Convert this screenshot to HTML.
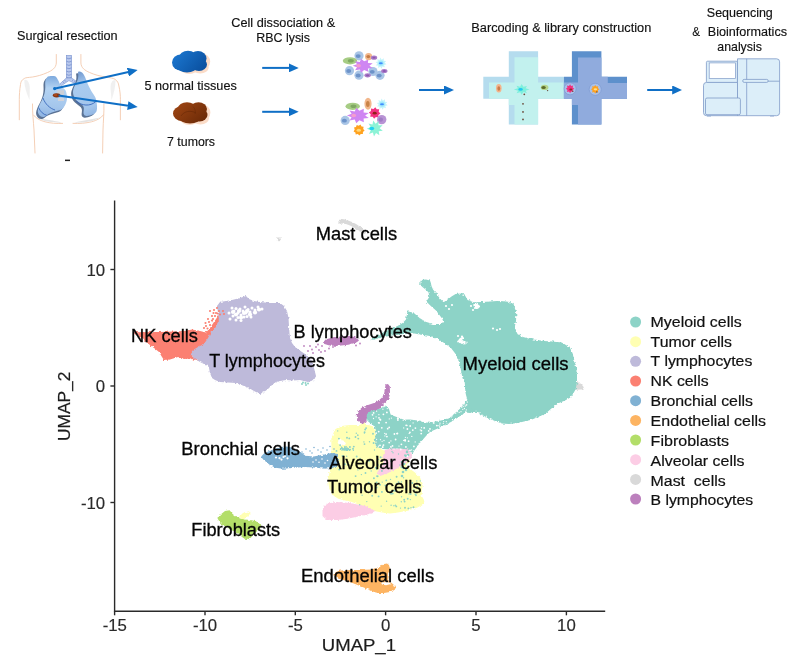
<!DOCTYPE html>
<html lang="en">
<head>
<meta charset="utf-8">
<title>scRNA-seq workflow and UMAP</title>
<style>
html,body{margin:0;padding:0;background:#fff;}
body{width:799px;height:663px;overflow:hidden;position:relative;font-family:"Liberation Sans",sans-serif;}
svg{position:absolute;left:0;top:0;display:block;}
text{font-family:"Liberation Sans",sans-serif;}
.flow{fill:#111;stroke:#111;stroke-width:0.15px;}
.lab{fill:#050505;stroke:#050505;stroke-width:0.3px;}
.leg{fill:#111;stroke:#111;stroke-width:0.2px;}
.tick{fill:#2a2a2a;stroke:#2a2a2a;stroke-width:0.15px;}
.axt{fill:#1c1c1c;stroke:#1c1c1c;stroke-width:0.2px;}
</style>
</head>
<body>
<svg width="799" height="663" viewBox="0 0 799 663">
<defs>
<marker id="ah" viewBox="0 0 10 9" refX="4" refY="4.5" markerWidth="10" markerHeight="9" markerUnits="userSpaceOnUse" orient="auto"><path d="M0,0 L10,4.5 L0,9 Z" fill="#0f6fc6"/></marker>
<linearGradient id="gBlue" gradientUnits="userSpaceOnUse" x1="178" y1="52" x2="202" y2="73"><stop offset="0" stop-color="#1a74cc"/><stop offset="1" stop-color="#0a4f9e"/></linearGradient>
<linearGradient id="gBrown" gradientUnits="userSpaceOnUse" x1="180" y1="103" x2="198" y2="124"><stop offset="0" stop-color="#9a4312"/><stop offset="1" stop-color="#6f2c08"/></linearGradient>
<linearGradient id="gLung" x1="0" y1="0" x2="0" y2="1"><stop offset="0" stop-color="#b9d6f2"/><stop offset="0.7" stop-color="#9dc0e8"/><stop offset="1" stop-color="#6f97cf"/></linearGradient>
<filter id="rough" x="100" y="190" width="500" height="420" filterUnits="userSpaceOnUse"><feTurbulence type="fractalNoise" baseFrequency="0.42" numOctaves="2" seed="3" result="n"/><feDisplacementMap in="SourceGraphic" in2="n" scale="3.2" xChannelSelector="R" yChannelSelector="G"/></filter>
<linearGradient id="gLungL" gradientUnits="userSpaceOnUse" x1="52" y1="76" x2="50" y2="117"><stop offset="0" stop-color="#7eaade"/><stop offset="0.3" stop-color="#b4d3f2"/><stop offset="0.75" stop-color="#a4c6ec"/><stop offset="1" stop-color="#8fb4e2"/></linearGradient>
<linearGradient id="gLungR" gradientUnits="userSpaceOnUse" x1="76" y1="72" x2="92" y2="116"><stop offset="0" stop-color="#6f97cf"/><stop offset="0.3" stop-color="#a9cbef"/><stop offset="0.8" stop-color="#a4c6ec"/><stop offset="1" stop-color="#8fb4e2"/></linearGradient>
</defs>

<!-- ================= TOP WORKFLOW ================= -->
<g id="flow">
<text class="flow" font-size="12.3" transform="translate(17.00,40.00) scale(1.0292,1)">Surgical resection</text>
<text class="flow" font-size="12.3" transform="translate(231.30,26.75) scale(1.0338,1)">Cell dissociation &amp;</text>
<text class="flow" font-size="12.3" transform="translate(256.30,42.00) scale(1.0094,1)">RBC lysis</text>
<text class="flow" font-size="12.3" transform="translate(471.30,31.75) scale(1.0377,1)">Barcoding &amp; library construction</text>
<text class="flow" font-size="12.3" transform="translate(706.80,17.00) scale(1.0177,1)">Sequencing</text>
<text class="flow" font-size="12.3" transform="translate(692.20,36.00) scale(0.9512,1)">&amp;</text>
<text class="flow" font-size="12.3" transform="translate(707.80,36.00) scale(1.0265,1)">Bioinformatics</text>
<text class="flow" font-size="12.3" transform="translate(717.30,51.00) scale(1.0034,1)">analysis</text>
<text class="flow" font-size="12.3" transform="translate(144.50,90.30) scale(1.0307,1)">5 normal tissues</text>
<text class="flow" font-size="12.3" transform="translate(167.10,145.50) scale(1.0031,1)">7 tumors</text>
</g>

<g id="torso">
<g fill="none" stroke="#f3c9ae" stroke-width="0.9" stroke-linecap="round">
<path d="M56.3,54.5 L56.3,63 C56,68 52,70.5 47.5,72.5 C42,75 37,76.3 32.5,77 C28,77.6 25.5,77.5 24.3,78.5 C21.5,80 20.7,82 20.5,84.5 C19.6,90 19.3,95 19.3,99.6 L19.3,119.8"/>
<path d="M80.9,54.5 L80.9,63 C81.2,68 85,70.5 89.6,72.5 C95,75 101,76.3 106,77 C110,77.8 113,78 115,79.3 C117.5,81 118.5,83 118.9,86 C120,91 120.4,95 120.4,99.6 L120.4,119.8"/>
<path d="M32.5,104 C32.3,112 33.5,122 34,130 L35,153"/>
<path d="M103.9,104 C104.2,112 103.2,122 103,130 L102.6,153"/>
<path d="M33.5,115 C38,121.5 50,124 62.6,123.4"/>
<path d="M103.3,115 C99,121.5 86,124 73,123.4"/>
</g>
<g fill="#ebebeb" stroke="none">
<path d="M24.3,80 C27,79 29.5,82 29.8,88 L29.5,100 C27,94 24.5,88 24.3,80 Z" opacity="0.75"/>
<path d="M115.5,80.5 C113,79.5 110.5,82 110.5,88 L111.5,100 C113.5,94 115.5,88 115.5,80.5 Z" opacity="0.75"/>
<path d="M37,117.5 C44,122 54,122.8 62,122.6 C54,120.5 44,119.5 37,117.5 Z" fill="#e4e4e4"/>
<path d="M100,117.5 C93,122 83,122.8 74,122.6 C82,120.5 92,119.5 100,117.5 Z" fill="#e4e4e4"/>
</g>
<rect x="66.3" y="55.3" width="5.3" height="23.4" fill="#b9c9ee" stroke="#7b93cf" stroke-width="0.6"/>
<path d="M66.5,58.0 Q68.9,59.6 71.4,58.0 M66.5,61.3 Q68.9,62.9 71.4,61.3 M66.5,64.6 Q68.9,66.2 71.4,64.6 M66.5,67.9 Q68.9,69.5 71.4,67.9 M66.5,71.2 Q68.9,72.8 71.4,71.2 M66.5,74.5 Q68.9,76.1 71.4,74.5 M66.5,77.3 Q68.9,78.9 71.4,77.3" fill="none" stroke="#6d86c8" stroke-width="0.7"/>
<path d="M66.3,78 L59.8,84 L61.4,85.6 L68.9,80.6 L76.6,84.2 L78,82.4 L71.6,78 Z" fill="#b9c9ee" stroke="#7b93cf" stroke-width="0.6"/>
<path d="M64.5,80 L65.8,81.6 M62.8,81.5 L64.2,83.2 M73,79.6 L72.2,81.3 M75,80.8 L74.2,82.6" stroke="#6d86c8" stroke-width="0.6" fill="none"/>
<path d="M47.3,78.3 C48.7,78.0 51.8,77.7 53.3,78.3 C54.8,78.9 55.3,80.4 56.3,82.0 C57.3,83.6 58.0,86.2 59.3,88.0 C60.6,89.8 62.9,90.6 63.9,92.6 C64.9,94.6 65.3,97.8 65.3,100.0 C65.3,102.2 64.8,104.1 63.9,106.0 C63.0,107.9 61.9,110.0 60.1,111.3 C58.3,112.6 55.4,112.8 53.3,113.6 C51.2,114.3 49.0,114.9 47.3,115.8 C45.5,116.7 44.3,118.4 42.8,118.8 C41.3,119.2 39.4,118.9 38.3,118.0 C37.2,117.1 36.2,115.3 36.1,113.6 C36.0,111.9 36.8,109.6 37.6,107.6 C38.3,105.6 39.7,103.6 40.6,101.6 C41.5,99.6 42.3,97.6 42.8,95.6 C43.3,93.6 43.5,91.5 43.6,89.5 C43.7,87.5 43.3,85.1 43.6,83.5 C43.8,81.9 44.5,80.7 45.1,79.8 C45.7,78.9 45.9,78.5 47.3,78.3 Z" fill="#5b7395"/>
<path d="M49.0,76.3 C50.4,76.0 53.5,75.7 55.0,76.3 C56.5,76.9 57.0,78.4 58.0,80.0 C59.0,81.6 59.7,84.2 61.0,86.0 C62.3,87.8 64.6,88.6 65.6,90.6 C66.6,92.6 67.0,95.8 67.0,98.0 C67.0,100.2 66.5,102.1 65.6,104.0 C64.7,105.9 63.6,108.0 61.8,109.3 C60.0,110.6 57.1,110.8 55.0,111.6 C52.9,112.3 50.8,112.9 49.0,113.8 C47.2,114.7 46.0,116.4 44.5,116.8 C43.0,117.2 41.1,116.9 40.0,116.0 C38.9,115.1 37.9,113.3 37.8,111.6 C37.7,109.9 38.5,107.6 39.3,105.6 C40.0,103.6 41.4,101.6 42.3,99.6 C43.2,97.6 44.0,95.6 44.5,93.6 C45.0,91.6 45.2,89.5 45.3,87.5 C45.4,85.5 45.0,83.1 45.3,81.5 C45.5,79.9 46.2,78.7 46.8,77.8 C47.4,76.9 47.6,76.5 49.0,76.3 Z" fill="url(#gLungL)"/>
<path d="M76.4,73.5 C77.0,73.0 79.0,73.3 80.1,74.2 C81.2,75.1 82.1,76.7 83.1,78.7 C84.1,80.7 84.9,83.7 86.1,86.2 C87.2,88.7 88.7,91.5 90.0,93.7 C91.3,96.0 92.8,97.4 93.7,99.7 C94.5,102.0 95.0,105.0 95.1,107.3 C95.2,109.6 95.2,111.8 94.5,113.3 C93.8,114.8 92.3,115.6 90.7,116.3 C89.1,117.0 86.2,117.8 84.7,117.7 C83.2,117.6 82.2,117.0 81.7,115.5 C81.2,114.0 82.5,110.6 81.7,108.7 C80.9,106.8 78.6,105.8 77.1,104.3 C75.6,102.8 73.7,101.5 72.7,99.7 C71.7,97.9 71.1,95.7 71.1,93.7 C71.1,91.7 71.9,89.7 72.7,87.7 C73.5,85.7 75.1,83.5 75.7,81.7 C76.3,80.0 76.3,78.6 76.4,77.2 C76.5,75.8 75.8,74.0 76.4,73.5 Z" fill="#5b7395"/>
<path d="M78.3,71.8 C78.9,71.3 80.9,71.6 82.0,72.5 C83.1,73.4 84.0,75.0 85.0,77.0 C86.0,79.0 86.8,82.0 88.0,84.5 C89.2,87.0 90.6,89.8 91.9,92.0 C93.2,94.2 94.8,95.7 95.6,98.0 C96.4,100.3 96.9,103.3 97.0,105.6 C97.1,107.9 97.1,110.1 96.4,111.6 C95.7,113.1 94.2,113.9 92.6,114.6 C91.0,115.3 88.1,116.1 86.6,116.0 C85.1,115.9 84.1,115.3 83.6,113.8 C83.1,112.3 84.4,108.9 83.6,107.0 C82.8,105.1 80.5,104.1 79.0,102.6 C77.5,101.1 75.6,99.8 74.6,98.0 C73.6,96.2 73.0,94.0 73.0,92.0 C73.0,90.0 73.8,88.0 74.6,86.0 C75.4,84.0 77.0,81.8 77.6,80.0 C78.2,78.2 78.2,76.9 78.3,75.5 C78.4,74.1 77.7,72.3 78.3,71.8 Z" fill="url(#gLungR)"/>
<path d="M43,98 C45,104 50,108.5 55,110" fill="none" stroke="#2f60b8" stroke-width="0.8"/>
<path d="M38.5,107.5 C40.5,112 43.5,114.5 46.8,115.3" fill="none" stroke="#2f60b8" stroke-width="0.8"/>
<path d="M76,101 C82,106 90,106.5 95.6,101.8" fill="none" stroke="#2f60b8" stroke-width="0.8"/>
<rect x="57.3" y="90.3" width="6.8" height="4.6" fill="#cfcfd4" opacity="0.9"/><rect x="58" y="98" width="6" height="3" fill="#d4d4d8" opacity="0.9"/>
<ellipse cx="56.6" cy="95.3" rx="3.8" ry="2.1" fill="#8a3410"/><ellipse cx="55.6" cy="95" rx="1.8" ry="1.2" fill="#a8481a"/>
<rect x="65" y="159.6" width="5" height="1.5" fill="#222"/>
<circle cx="54.6" cy="88.6" r="1.6" fill="#0f6fc6"/>
<g stroke="#0f6fc6" stroke-width="2" fill="none">
<line x1="54.2" y1="88.7" x2="131.8" y2="71.3" marker-end="url(#ah)"/>
<line x1="58.5" y1="95.6" x2="131.75" y2="106.2" marker-end="url(#ah)"/>
</g>
</g><!--/torso-->

<g id="tissues">
<!-- normal tissue: peach shadow + blue clover -->
<g transform="translate(3.2,1.6)" fill="#fbdcc8">
<ellipse cx="181" cy="62" rx="8.5" ry="8"/><ellipse cx="190" cy="58" rx="9" ry="7"/><ellipse cx="199" cy="60" rx="8" ry="8"/><ellipse cx="197" cy="66" rx="8.5" ry="6"/><ellipse cx="186" cy="66.5" rx="9" ry="6"/>
</g>
<g fill="url(#gBlue)">
<ellipse cx="181" cy="62.5" rx="9" ry="8"/><ellipse cx="188" cy="57.5" rx="9" ry="6.8"/><ellipse cx="198" cy="58.5" rx="8.5" ry="7.5"/><ellipse cx="199" cy="64.5" rx="8" ry="6.5"/><ellipse cx="187" cy="66.5" rx="10" ry="6"/><ellipse cx="193" cy="62" rx="9" ry="8"/>
</g>
<!-- tumor tissue -->
<g transform="translate(3.4,1.6)" fill="#fbdcc8">
<ellipse cx="181" cy="113" rx="8" ry="8"/><ellipse cx="190" cy="109" rx="9" ry="7"/><ellipse cx="199" cy="111" rx="8" ry="8"/><ellipse cx="197" cy="117" rx="8.5" ry="6"/><ellipse cx="186" cy="117.5" rx="9" ry="6"/>
</g>
<g fill="url(#gBrown)">
<ellipse cx="182" cy="113.5" rx="9" ry="7.5"/><ellipse cx="187" cy="108.5" rx="9" ry="6.2"/><ellipse cx="198.5" cy="109" rx="8.5" ry="6.8"/><ellipse cx="199.5" cy="115" rx="8" ry="6.5"/><ellipse cx="190" cy="117.5" rx="11" ry="6"/><ellipse cx="193" cy="112.5" rx="8" ry="7"/>
</g>
<path d="M181,116 C184,111 191,110 196,113" fill="none" stroke="#5e2405" stroke-width="0.8" opacity="0.6"/>
<path d="M193,106.5 C195,109 196,111 195,114" fill="none" stroke="#5e2405" stroke-width="0.7" opacity="0.5"/>
<!-- flow arrows -->
<g stroke="#0f6fc6" stroke-width="2" fill="none">
<line x1="262.2" y1="67.9" x2="292.7" y2="67.9" marker-end="url(#ah)"/>
<line x1="262.2" y1="111.8" x2="292.7" y2="111.8" marker-end="url(#ah)"/>
<line x1="419" y1="90" x2="448" y2="90" marker-end="url(#ah)"/>
<line x1="647.2" y1="90" x2="676.2" y2="90" marker-end="url(#ah)"/>
</g>
</g>
<g id="cells">
<circle cx="359" cy="55.8" r="4.6" fill="#a9c5e6"/><ellipse cx="358.2" cy="56.099999999999994" rx="2.5" ry="1.9" fill="#6d93c9"/>
<circle cx="368.6" cy="56.6" r="3.6" fill="#f2b78c"/><ellipse cx="368.3" cy="56.6" rx="1.9" ry="1.6" fill="#c47a45"/>
<ellipse cx="374" cy="57.7" rx="3.2" ry="2.1" fill="#a97bc8"/><ellipse cx="374" cy="57.7" rx="1.6" ry="0.9" fill="#8a57b0"/>
<ellipse cx="350" cy="60.8" rx="7.2" ry="3.6" fill="#a6cc84"/><ellipse cx="350.8" cy="60.8" rx="3" ry="1.8" fill="#7fa862"/>
<circle cx="349.5" cy="70.7" r="4.6" fill="#a9c5e6"/><ellipse cx="348.7" cy="71.0" rx="2.5" ry="1.9" fill="#6d93c9"/>
<circle cx="359" cy="75.2" r="4.6" fill="#a9c5e6"/><ellipse cx="358.2" cy="75.5" rx="2.5" ry="1.9" fill="#6d93c9"/>
<circle cx="373" cy="71.5" r="4.6" fill="#a9c5e6"/><ellipse cx="372.2" cy="71.8" rx="2.5" ry="1.9" fill="#6d93c9"/>
<circle cx="380" cy="75.3" r="4.6" fill="#a9c5e6"/><ellipse cx="379.2" cy="75.6" rx="2.5" ry="1.9" fill="#6d93c9"/>
<ellipse cx="384.3" cy="71" rx="3.2" ry="2.1" fill="#a97bc8"/><ellipse cx="384.3" cy="71" rx="1.6" ry="0.9" fill="#8a57b0"/>
<ellipse cx="367.6" cy="75.3" rx="3.2" ry="2.1" fill="#a97bc8"/><ellipse cx="367.6" cy="75.3" rx="1.6" ry="0.9" fill="#8a57b0"/>
<polygon points="8.1,2.9 4.1,3.4 4.3,7.5 0.9,5.3 -1.5,8.5 -2.7,4.6 -6.6,5.5 -5.0,1.8 -8.6,-0.0 -5.0,-1.8 -6.6,-5.5 -2.7,-4.6 -1.5,-8.5 0.9,-5.3 4.3,-7.4 4.1,-3.4 8.1,-2.9 5.3,0.0" fill="#cf86f2" transform="translate(363,65.7) scale(1.2,0.82)"/><ellipse cx="358.5" cy="65.7" rx="2.4" ry="1.8" fill="#f59ccf"/>
<polygon points="386.5,64.3 384.1,65.0 384.8,67.3 382.5,66.5 381.6,68.8 380.3,66.7 378.2,68.1 378.3,65.6 375.9,65.5 377.4,63.6 375.5,62.1 377.9,61.4 377.2,59.1 379.5,59.9 380.4,57.6 381.7,59.7 383.8,58.3 383.7,60.8 386.1,60.9 384.6,62.8" fill="#c4f5fb"/><circle cx="381" cy="63.2" r="2.6" fill="#9fe8fb"/><ellipse cx="380.8" cy="63.2" rx="2" ry="1" fill="#3f8dff"/>
<ellipse cx="352.7" cy="106.3" rx="7.2" ry="3.6" fill="#a6cc84"/><ellipse cx="353.5" cy="106.3" rx="3" ry="1.8" fill="#7fa862"/>
<ellipse cx="368" cy="103.8" rx="3.6" ry="6" fill="#f2b78c"/><ellipse cx="367.8" cy="104" rx="1.8" ry="3" fill="#c98348"/>
<polygon points="387.7,105.3 385.3,106.0 386.0,108.3 383.7,107.5 382.8,109.8 381.5,107.7 379.4,109.1 379.5,106.6 377.1,106.5 378.6,104.6 376.7,103.1 379.1,102.4 378.4,100.1 380.7,100.9 381.6,98.6 382.9,100.7 385.0,99.3 384.9,101.8 387.3,101.9 385.8,103.8" fill="#c4f5fb"/><circle cx="382.2" cy="104.2" r="2.6" fill="#9fe8fb"/><ellipse cx="382.0" cy="104.2" rx="2" ry="1" fill="#3f8dff"/>
<circle cx="345.2" cy="120.4" r="4.6" fill="#a9c5e6"/><ellipse cx="344.4" cy="120.7" rx="2.5" ry="1.9" fill="#6d93c9"/>
<polygon points="8.8,3.2 4.5,3.8 4.7,8.1 1.0,5.7 -1.6,9.3 -2.9,5.0 -7.2,6.0 -5.5,2.0 -9.4,-0.0 -5.5,-2.0 -7.2,-6.0 -2.9,-5.0 -1.6,-9.3 1.0,-5.7 4.7,-8.1 4.5,-3.7 8.8,-3.2 5.8,0.0" fill="#cf86f2" transform="translate(358.2,115.5) scale(1.2,0.82)"/><ellipse cx="353.7" cy="115.5" rx="2.4" ry="1.8" fill="#f59ccf"/>
<polygon points="380.5,113.6 378.4,115.0 378.4,117.5 375.9,117.0 374.1,118.8 372.7,116.7 370.2,116.7 370.7,114.2 368.9,112.4 371.0,111.0 371.0,108.5 373.5,109.0 375.3,107.2 376.7,109.3 379.2,109.3 378.7,111.8" fill="#f2317f"/><ellipse cx="374.7" cy="113.2" rx="2" ry="1.4" fill="#8f2218"/>
<circle cx="381.7" cy="119.6" r="4.7" fill="#b893d4"/><circle cx="380.8" cy="119.6" r="2.2" fill="#a07cc4"/>
<polygon points="364.6,130.6 362.9,131.9 362.9,134.0 360.8,133.9 359.4,135.6 357.8,134.1 355.7,134.5 355.4,132.4 353.6,131.4 354.7,129.6 354.0,127.6 356.0,126.9 356.7,124.9 358.7,125.7 360.5,124.6 361.5,126.5 363.6,126.8 363.2,128.9" fill="#ffa21f"/><ellipse cx="358.8" cy="130.2" rx="2.2" ry="1.5" fill="#ffd97a"/>
<polygon points="382.8,130.8 378.7,131.2 379.4,135.3 376.0,132.9 374.0,136.5 372.9,132.5 369.0,134.0 370.8,130.2 366.8,128.8 370.6,127.0 368.5,123.4 372.5,124.5 373.2,120.4 375.6,123.8 378.7,121.1 378.4,125.3 382.6,125.2 379.6,128.2" fill="#8df3d6"/><ellipse cx="371.8" cy="128.5" rx="2.4" ry="1.8" fill="#1fd2f0"/>
</g>
<g id="chip">
<!-- light cross -->
<path d="M508.8,51.3 H538.1 V76.8 H563.9 V98.8 H538.1 V124.6 H508.8 V98.8 H483.3 V76.8 H508.8 Z" fill="#b5dcee"/>
<path d="M514.5,57.2 H538.1 V82.5 H563.9 V98.8 H538.1 V124.6 H514.5 V105 H508.8 V98.8 H489 V82.5 H514.5 Z" fill="#c2f1ee"/>
<!-- dark cross -->
<path d="M571.9,51.3 H601.4 V76.8 H627 V98.8 H601.4 V124.6 H571.9 V98.8 H563.9 V76.8 H571.9 Z" fill="#5d90cc"/>
<path d="M578,57.5 H601.4 V76.8 H607.8 V83 H627 V98.8 H601.4 V124.6 H578 V105 H571.9 V98.8 H563.9 V82.5 H578 Z" fill="#90abdd"/>
<!-- cells in channel -->
<ellipse cx="498.8" cy="88.3" rx="2.8" ry="4.2" fill="#f4b48c"/><ellipse cx="498.8" cy="88.5" rx="1.4" ry="2.2" fill="#c97b4a"/>
<polygon transform="translate(521.7,89.4) scale(1.35,1.1) translate(-521.7,-89.4)" points="527.5,89.5 524.6,90.6 525.6,92.9 523.1,91.8 521.6,94.2 520.6,91.9 517.9,93.0 519.0,90.7 515.9,89.6 518.9,88.4 517.8,86.1 520.5,87.1 521.6,84.6 523.0,87.1 525.6,86.2 524.6,88.4" fill="#7ff0dc"/><ellipse cx="520.6" cy="89.4" rx="2.2" ry="1.3" fill="#22c8f0"/>
<ellipse cx="544.6" cy="87.4" rx="3.8" ry="2.7" fill="#b6d58c"/><ellipse cx="543.6" cy="87.4" rx="2.2" ry="1.5" fill="#5c6b2a"/>
<circle cx="570.1" cy="88.8" r="6" fill="#a9c1ea" stroke="#7895cf" stroke-width="0.6"/>
<polygon points="574.3,88.8 572.6,90.0 573.2,92.0 571.1,91.6 570.1,93.3 569.0,91.6 566.9,92.0 567.5,90.0 565.8,88.8 567.5,87.6 566.9,85.6 569.0,86.1 570.1,84.3 571.1,86.1 573.2,85.6 572.6,87.6" fill="#f3307f"/><ellipse cx="570.8" cy="89.4" rx="1.5" ry="1" fill="#8a2a30"/>
<circle cx="595.2" cy="89.3" r="6" fill="#a9c1ea" stroke="#7895cf" stroke-width="0.6"/>
<polygon points="599.4,89.3 597.8,90.5 598.3,92.4 596.3,92.1 595.2,93.7 594.1,92.1 592.1,92.4 592.6,90.5 591.0,89.3 592.6,88.1 592.1,86.2 594.1,86.5 595.2,84.9 596.3,86.5 598.3,86.2 597.8,88.1" fill="#ffa21f"/><ellipse cx="595.4" cy="89.3" rx="1.8" ry="1.1" fill="#ffe08a"/>
<g fill="#6b4a3a"><circle cx="524.3" cy="94.3" r="0.9"/><circle cx="523" cy="103.8" r="0.9"/><circle cx="523" cy="111.9" r="0.9"/><circle cx="523" cy="119.4" r="0.9"/><circle cx="547.6" cy="90.6" r="0.7"/><circle cx="572.8" cy="91.2" r="0.7"/><circle cx="596.8" cy="92" r="0.7"/></g>
</g>
<g id="seq" fill="#dceef9" stroke="#7f9ac8" stroke-width="0.8">
<rect x="706.4" y="61.2" width="31" height="21.5" rx="1.2"/>
<rect x="709.2" y="62.9" width="26.2" height="15.6" fill="#ffffff" stroke-width="0.7"/>
<rect x="707" y="115" width="4" height="1.6" fill="#a9bfe0" stroke="none"/>
<rect x="770" y="115" width="4" height="1.6" fill="#a9bfe0" stroke="none"/>
<path d="M706.5,82.4 H737.5 V115.7 H706.5 Q703.5,115.7 703.5,112.7 V85.4 Q703.5,82.4 706.5,82.4 Z"/>
<path d="M737.5,58.8 H776.6 Q779.6,58.8 779.6,61.8 V112.7 Q779.6,115.7 776.6,115.7 H737.5 Z"/>
<line x1="746.7" y1="58.8" x2="746.7" y2="115.7"/>
<rect x="705.5" y="98" width="34.9" height="16.7" rx="1.5"/>
<line x1="768" y1="81.2" x2="779.6" y2="81.2"/>
<rect x="742.7" y="79.4" width="25.5" height="3" rx="1.5"/>
</g>

<!-- ================= UMAP ================= -->
<g id="umap"><g filter="url(#rough)">
<path d="M133,332.3 L160,332 L185,331 L192,329.5 L200,331 L206,332.5 L210,328 L214,322 L218,316 L221,313 L222,317 L219,322 L215,328 L211,334 L208,340 L204,345 L196,349 L192,352 L192,356 L196,359 L200,361 L190,358.5 L184,359 L178,357 L170,359.5 L164,360 L162,357 L159,352 L154,348 L146,342 L138,335 Z" fill="#fb8072" />
<path d="M217,306 L220,302 L226,301 L232,300 L240,298 L246,296 L249,299 L254,301 L260,302 L270,303 L280,303 L284,306 L287,311 L288.5,318 L289,326 L289.5,333 L290,338 L292,343 L295,347 L302,352 L308,356 L312,362 L314,368 L316,376 L314,380 L308,382 L300,380 L293,380.5 L286,380 L280,381 L276,382 L272,385 L268,389 L264,392 L260,394 L254,391 L249,388 L244,386 L236,383 L228,382.5 L220,382 L215,380 L212,378 L210,373 L209,368 L208,366 L204,364 L200,362 L195,359 L192,356 L191,353 L193,350 L198,347 L204,344 L208,338 L211,332 L216,326 L219,320 L218,313 Z" fill="#bebada" />
<ellipse cx="341" cy="341" rx="18" ry="4.6" fill="#bc80bd" transform="rotate(-4 341 341)"/>
<path d="M338,222 L340,220 L342,219 L345,219.5 L348,220.5 L352,222 L356,224 L359,226 L362,228 L364.5,230.5 L366,232 L365,234 L362,232.5 L358,230 L354,227.5 L350,225.5 L346,224 L342,223.5 L340,224 Z" fill="#d9d9d9" />
<path d="M277,237.5 L281,237.5 L280.5,240 L279,241.5 L277.5,240 Z" fill="#d9d9d9" />
<path d="M576,380.5 L579.5,382.5 L583,386 L584.5,389.5 L580,389.5 L575,390 Z" fill="#d9d9d9" />
<path d="M365,416 L367,412.5 L371,410 L376,409 L380,408.5 L386,405.5 L389,409 L390.6,414.5 L394,416 L398,417.5 L404,419.8 L410,419.5 L417.6,420.5 L421,421 L425,422.5 L430,422.7 L434.5,421.8 L437.7,421.3 L443,420 L448.7,418.5 L454,414 L459.7,409 L464,404 L468,399.3 L472,404 L476,411.7 L470,413 L465.2,412.5 L458,417.5 L451.4,421.8 L445,425 L437.7,428.5 L433,430.5 L429.4,432.5 L426,436 L422.5,440 L419,444 L416.5,447.6 L414,451 L412,455 L410.5,458 L409,461 L406,458 L407,453 L404,450.5 L398,449.5 L390,449.5 L383,449 L378,447.5 L375.6,446 L375,440 L375.6,429.6 L374,426 L370,423 L366.5,420 Z" fill="#8dd3c7" />
<path d="M422.6,279.8 L426,279.5 L430,280.5 L430.8,282.8 L431.5,286 L433,289.5 L435,292 L437.6,295.5 L440,298.5 L443.6,302.3 L448,299.3 L451.5,296.5 L455.6,294 L460,293.5 L464.6,294.8 L467.6,300 L473.6,302.3 L482,302 L490,301.5 L497,301 L504,301.3 L510,302 L513.5,304 L515.5,309 L516.3,315 L516,321 L515,326 L516,331 L517.7,334.3 L523,337 L528.7,338.5 L537,340 L545,341 L553,341.5 L561.7,342.6 L566,345 L570,348 L572.5,353 L574,359 L576,367 L577,375.6 L577,383 L575.5,389.4 L573,394 L570,397.7 L565,400.5 L559,403 L552,408 L545,414 L538,417 L531.4,419.7 L524,421.5 L517.7,423 L509,424 L502,423.5 L495,421 L490,419 L485,416.5 L481,414.5 L477,412 L473.6,411 L470,407 L468,402 L466,395 L465.4,392 L464.6,380 L462.6,378.4 L460.5,368 L458.6,360 L455.6,354 L451,348 L445,343.6 L437.6,339 L430,336 L419.6,334.6 L412,333 L405,333.8 L395,335 L385,336.8 L380,338 L373,339.8 L370,339 L377,335.5 L384,332 L391,328.6 L397,326.3 L402.3,323.3 L406,319.6 L406.8,315 L407.5,311.3 L413.6,312.8 L419.6,318 L425.6,321.8 L433,324 L440.6,324 L443.6,321.8 L440.6,316.6 L436,310.5 L430,305.3 L426.3,301.5 L429.3,297 L428.6,292.5 L425.6,289.5 L423,287.5 L420.3,285 L420.5,282 Z" fill="#8dd3c7" />
<path d="M457,341.5 L460,338 L463,336.5 L464,338 L461.5,340.5 L466,341 L467,344 L463.5,344.5 L460.5,342.5 L458.5,343.5 Z" fill="#ffffff" />
<path d="M473,304.5 L477,303.5 L480,306 L478,309 L474.5,308 Z" fill="#ffffff" />
<path d="M385.5,384.5 L388,384 L389.8,386.5 L390,392 L389.5,396 L388,400 L386,402.5 L383,405 L380,408.5 L375,410 L370,411.5 L367,414 L366.5,418 L366.6,422 L364,424 L360,423 L357.5,420 L356.8,415 L358,411 L362,407.5 L368,405 L374,403 L378,401 L381.5,398 L383.8,395 L384.8,390 Z" fill="#bc80bd" />
<path d="M331.3,440 L333,434 L335,429.6 L339.5,426.6 L345,425.5 L350,425 L359,425 L363.6,423.6 L368,424.5 L372,426.5 L375.6,429.6 L375,440 L375.6,446 L383.4,450.3 L395,451 L408,453 L410,460 L406,466 L415,472.5 L420,477.5 L422.8,484 L422,490 L421.6,495.4 L425,502 L421,505.5 L417,507.8 L411,509.5 L405.9,511 L398,512.5 L390,513.4 L382,512.5 L374.3,511 L368,508.5 L363,506.6 L357,504 L351.8,502 L345,500.5 L338.3,498.8 L334,496 L331.5,493 L329,487 L328,480 L330,470 L331,460 L331.5,450 Z" fill="#ffffb3" />
<path d="M339.5,448 L344,447 L350,447.8 L350.5,450 L345,450.8 L340,450.3 Z" fill="#8dd3c7" />
<path d="M385,450 L392,448.5 L400,448.5 L408,449.5 L411,452 L412.5,455 L410,459 L406,462 L402.5,464 L398,468 L392,471 L386,474 L380,476 L377,473 L380,468 L384,462 L383,456 Z" fill="#fccde5" />
<path d="M322.5,510 L324,506 L327.5,503.8 L335,502 L345,502.5 L355,504 L365,506 L371,508.5 L375,511 L371,513.5 L365,515 L356,517 L347.5,518.8 L338,520 L330,520 L325,518.5 L322.5,516 Z" fill="#fccde5" />
<path d="M261.2,456.4 L264,453.6 L269.6,450.8 L276,448.5 L281,447 L286.5,446.5 L292,447.5 L296,450 L300,452 L305.7,455.8 L313.6,456.4 L322.6,454.7 L331.6,453 L338,454 L338,466 L331.6,467.7 L324.8,468.8 L317,467.7 L305.7,467 L294.4,467.7 L283,468.8 L275.3,467.7 L269.6,464.8 L262.9,459.2 Z" fill="#80b1d3" />
<path d="M239,516.5 L243,513 L249,511.3 L250.5,513.5 L247,517 L243,520 Z" fill="#ffffb3" />
<path d="M217.5,518.5 L220,515 L225,511 L229.6,510.3 L232.6,514 L236,516.5 L240,518.5 L245,519.5 L250.6,520 L255,521 L258,522.3 L261,525.3 L260,528 L258,530.5 L255.5,532.5 L253.6,534.3 L252,536.5 L250.6,538 L247,539 L244.6,538.8 L242,537 L240,535 L235,532 L229.6,529 L225,526 L220.5,523 Z" fill="#b3de69" />
<path d="M333,575 L336,572 L340,570.5 L350,570 L360,570 L370,569.5 L378,568 L381,566 L384,564 L387,563.5 L389,565 L390,570 L389,575 L388,580 L391,582.5 L394,585 L395.5,588 L395,589.5 L392,591.5 L390,592 L384,593 L378,593 L374,592 L370,590 L365,588 L360,586 L355,584 L350,582 L345,580.5 L340,579 L336,577 Z" fill="#fdb462" />
<path d="M381,582.6 L389,582 L391,584 L386,585.2 L382,584.6 Z" fill="#ffffff" />
</g>
<g id="umapdots">
<g fill="#fb8072"><circle cx="214.0" cy="310.0" r="1.05"/><circle cx="217.0" cy="308.0" r="1.05"/><circle cx="219.0" cy="311.0" r="1.05"/><circle cx="212.0" cy="316.0" r="1.05"/><circle cx="209.0" cy="322.0" r="1.05"/><circle cx="206.0" cy="326.0" r="1.05"/><circle cx="223.0" cy="311.0" r="1.05"/><circle cx="216.0" cy="313.0" r="1.05"/><circle cx="213.0" cy="319.0" r="1.05"/><circle cx="224.0" cy="314.0" r="1.05"/><circle cx="204.0" cy="328.0" r="1.05"/><circle cx="210.0" cy="311.0" r="1.05"/><circle cx="215.0" cy="316.0" r="1.05"/><circle cx="217.5" cy="313.5" r="1.05"/><circle cx="212.0" cy="320.5" r="1.05"/><circle cx="210.0" cy="325.0" r="1.05"/><circle cx="207.5" cy="328.5" r="1.05"/><circle cx="220.0" cy="314.5" r="1.05"/><circle cx="213.5" cy="313.0" r="1.05"/><circle cx="208.0" cy="319.0" r="1.05"/><circle cx="205.5" cy="323.0" r="1.05"/></g>
<g fill="#ffffff"><circle cx="232.0" cy="308.0" r="1.5"/><circle cx="234.0" cy="311.0" r="1.5"/><circle cx="236.0" cy="308.5" r="1.5"/><circle cx="238.0" cy="313.0" r="1.5"/><circle cx="240.0" cy="309.0" r="1.5"/><circle cx="241.0" cy="315.0" r="1.5"/><circle cx="243.0" cy="311.0" r="1.5"/><circle cx="245.0" cy="307.0" r="1.5"/><circle cx="246.0" cy="313.0" r="1.5"/><circle cx="248.0" cy="309.5" r="1.5"/><circle cx="244.0" cy="317.0" r="1.5"/><circle cx="238.0" cy="317.5" r="1.5"/><circle cx="233.0" cy="316.0" r="1.5"/><circle cx="236.0" cy="320.0" r="1.5"/><circle cx="241.0" cy="320.5" r="1.5"/><circle cx="247.0" cy="316.5" r="1.5"/><circle cx="250.0" cy="312.0" r="1.5"/><circle cx="252.0" cy="308.0" r="1.5"/><circle cx="255.0" cy="310.0" r="1.5"/><circle cx="258.0" cy="307.0" r="1.5"/><circle cx="262.0" cy="309.0" r="1.5"/><circle cx="230.0" cy="319.0" r="1.5"/><circle cx="229.0" cy="313.0" r="1.5"/><circle cx="251.0" cy="317.0" r="1.5"/></g>
<g fill="#ffffff"><circle cx="239.0" cy="311.0" r="2.1"/><circle cx="244.0" cy="313.0" r="2.1"/><circle cx="236.0" cy="314.5" r="2.1"/><circle cx="247.0" cy="311.0" r="2.1"/><circle cx="241.0" cy="317.5" r="2.1"/><circle cx="233.0" cy="312.0" r="2.1"/><circle cx="250.0" cy="314.5" r="2.1"/><circle cx="255.0" cy="312.5" r="2.1"/><circle cx="259.0" cy="309.5" r="2.1"/></g>
<g fill="#8dd3c7"><circle cx="303.0" cy="382.5" r="1.0"/><circle cx="305.5" cy="383.0" r="1.0"/><circle cx="308.0" cy="383.5" r="1.0"/><circle cx="306.0" cy="385.0" r="1.0"/><circle cx="302.0" cy="384.0" r="1.0"/></g>
<g fill="#bc80bd"><circle cx="304.0" cy="346.0" r="0.9"/><circle cx="308.0" cy="351.0" r="0.9"/><circle cx="312.0" cy="349.5" r="0.9"/><circle cx="316.0" cy="347.0" r="0.9"/><circle cx="313.0" cy="353.0" r="0.9"/><circle cx="319.0" cy="350.0" r="0.9"/><circle cx="322.0" cy="346.0" r="0.9"/><circle cx="325.0" cy="351.0" r="0.9"/><circle cx="318.0" cy="344.5" r="0.9"/><circle cx="329.0" cy="348.5" r="0.9"/><circle cx="333.0" cy="347.0" r="0.9"/><circle cx="310.0" cy="346.0" r="0.9"/><circle cx="321.0" cy="352.0" r="0.9"/><circle cx="356.0" cy="345.5" r="0.9"/><circle cx="360.0" cy="343.5" r="0.9"/><circle cx="326.0" cy="343.0" r="0.9"/></g>
<g fill="#ffffff"><circle cx="437.0" cy="319.0" r="1.1"/><circle cx="440.0" cy="321.0" r="1.1"/><circle cx="442.0" cy="318.5" r="1.1"/><circle cx="458.0" cy="336.0" r="1.1"/><circle cx="461.0" cy="339.0" r="1.1"/><circle cx="463.0" cy="342.0" r="1.1"/><circle cx="459.0" cy="341.0" r="1.1"/><circle cx="462.0" cy="336.5" r="1.1"/><circle cx="493.0" cy="328.5" r="1.1"/><circle cx="497.0" cy="330.0" r="1.1"/><circle cx="500.0" cy="329.0" r="1.1"/><circle cx="471.0" cy="306.0" r="1.1"/><circle cx="475.0" cy="308.0" r="1.1"/><circle cx="479.0" cy="306.5" r="1.1"/><circle cx="473.0" cy="310.0" r="1.1"/><circle cx="446.0" cy="306.0" r="1.1"/><circle cx="449.0" cy="309.0" r="1.1"/><circle cx="452.0" cy="305.0" r="1.1"/></g>
<g fill="#ffffff"><circle cx="340.0" cy="440.5" r="1.7"/><circle cx="342.5" cy="442.0" r="1.7"/><circle cx="341.0" cy="444.0" r="1.7"/><circle cx="344.0" cy="443.5" r="1.7"/><circle cx="339.5" cy="442.5" r="1.7"/></g>
<g fill="#8dd3c7"><circle cx="339.2" cy="469.6" r="0.95"/><circle cx="373.0" cy="433.7" r="0.95"/><circle cx="372.2" cy="495.8" r="0.95"/><circle cx="347.0" cy="437.7" r="0.95"/><circle cx="386.3" cy="480.4" r="0.95"/><circle cx="371.6" cy="490.1" r="0.95"/><circle cx="394.1" cy="490.7" r="0.95"/><circle cx="396.6" cy="476.7" r="0.95"/><circle cx="376.7" cy="482.5" r="0.95"/><circle cx="368.7" cy="482.8" r="0.95"/><circle cx="407.7" cy="498.8" r="0.95"/><circle cx="349.9" cy="447.0" r="0.95"/><circle cx="377.6" cy="476.3" r="0.95"/><circle cx="404.2" cy="499.7" r="0.95"/><circle cx="369.3" cy="460.7" r="0.95"/><circle cx="340.1" cy="445.1" r="0.95"/><circle cx="364.6" cy="432.3" r="0.95"/><circle cx="356.7" cy="456.5" r="0.95"/><circle cx="375.9" cy="467.7" r="0.95"/><circle cx="343.2" cy="456.1" r="0.95"/><circle cx="381.9" cy="491.9" r="0.95"/><circle cx="410.7" cy="494.1" r="0.95"/><circle cx="380.6" cy="457.2" r="0.95"/><circle cx="336.5" cy="450.9" r="0.95"/><circle cx="396.3" cy="506.4" r="0.95"/><circle cx="353.8" cy="446.6" r="0.95"/><circle cx="392.8" cy="493.6" r="0.95"/><circle cx="401.5" cy="467.2" r="0.95"/><circle cx="405.0" cy="455.3" r="0.95"/><circle cx="349.3" cy="438.4" r="0.95"/><circle cx="415.4" cy="494.1" r="0.95"/><circle cx="408.4" cy="508.4" r="0.95"/><circle cx="365.5" cy="473.0" r="0.95"/><circle cx="353.0" cy="448.7" r="0.95"/><circle cx="355.6" cy="476.1" r="0.95"/><circle cx="381.9" cy="470.9" r="0.95"/><circle cx="373.6" cy="443.0" r="0.95"/><circle cx="376.6" cy="487.5" r="0.95"/><circle cx="373.9" cy="478.2" r="0.95"/><circle cx="380.1" cy="484.8" r="0.95"/><circle cx="344.9" cy="464.3" r="0.95"/><circle cx="404.6" cy="501.6" r="0.95"/><circle cx="398.5" cy="482.1" r="0.95"/><circle cx="413.5" cy="507.3" r="0.95"/><circle cx="364.5" cy="444.1" r="0.95"/><circle cx="383.9" cy="464.1" r="0.95"/><circle cx="405.0" cy="507.7" r="0.95"/><circle cx="358.3" cy="438.6" r="0.95"/><circle cx="416.0" cy="495.2" r="0.95"/><circle cx="385.4" cy="485.4" r="0.95"/><circle cx="391.1" cy="493.7" r="0.95"/><circle cx="355.5" cy="437.0" r="0.95"/><circle cx="361.5" cy="490.3" r="0.95"/><circle cx="365.2" cy="429.5" r="0.95"/><circle cx="378.6" cy="496.4" r="0.95"/><circle cx="391.2" cy="461.2" r="0.95"/><circle cx="338.9" cy="438.6" r="0.95"/><circle cx="412.3" cy="483.0" r="0.95"/><circle cx="348.2" cy="464.6" r="0.95"/><circle cx="366.1" cy="428.1" r="0.95"/></g>
<g fill="#8dd3c7"><circle cx="376.7" cy="469.2" r="0.7"/><circle cx="357.8" cy="435.4" r="0.7"/><circle cx="401.5" cy="481.9" r="0.7"/><circle cx="409.1" cy="494.0" r="0.7"/><circle cx="386.6" cy="501.2" r="0.7"/><circle cx="390.5" cy="479.4" r="0.7"/><circle cx="405.8" cy="489.4" r="0.7"/><circle cx="382.2" cy="482.1" r="0.7"/><circle cx="378.5" cy="459.4" r="0.7"/><circle cx="395.5" cy="490.9" r="0.7"/><circle cx="361.4" cy="474.6" r="0.7"/><circle cx="396.3" cy="483.4" r="0.7"/><circle cx="380.5" cy="466.1" r="0.7"/><circle cx="374.5" cy="450.0" r="0.7"/><circle cx="381.2" cy="506.1" r="0.7"/><circle cx="378.3" cy="465.0" r="0.7"/><circle cx="346.7" cy="456.2" r="0.7"/><circle cx="401.6" cy="496.8" r="0.7"/><circle cx="417.4" cy="486.5" r="0.7"/><circle cx="360.1" cy="458.5" r="0.7"/><circle cx="366.5" cy="463.1" r="0.7"/><circle cx="359.7" cy="504.7" r="0.7"/><circle cx="357.9" cy="469.9" r="0.7"/><circle cx="399.9" cy="465.0" r="0.7"/><circle cx="392.0" cy="451.5" r="0.7"/><circle cx="376.5" cy="456.2" r="0.7"/><circle cx="400.5" cy="508.1" r="0.7"/><circle cx="393.0" cy="452.7" r="0.7"/><circle cx="369.5" cy="441.7" r="0.7"/><circle cx="374.5" cy="439.4" r="0.7"/><circle cx="342.2" cy="456.0" r="0.7"/><circle cx="413.9" cy="489.5" r="0.7"/><circle cx="371.2" cy="471.0" r="0.7"/><circle cx="364.4" cy="433.1" r="0.7"/><circle cx="353.4" cy="450.2" r="0.7"/><circle cx="410.4" cy="499.6" r="0.7"/><circle cx="376.6" cy="476.1" r="0.7"/><circle cx="411.0" cy="507.7" r="0.7"/><circle cx="395.4" cy="505.2" r="0.7"/><circle cx="392.3" cy="490.7" r="0.7"/><circle cx="416.8" cy="480.9" r="0.7"/><circle cx="420.3" cy="480.9" r="0.7"/><circle cx="376.8" cy="447.3" r="0.7"/><circle cx="420.5" cy="485.8" r="0.7"/><circle cx="405.7" cy="488.6" r="0.7"/><circle cx="362.1" cy="495.2" r="0.7"/><circle cx="353.9" cy="490.4" r="0.7"/><circle cx="393.9" cy="505.8" r="0.7"/><circle cx="346.8" cy="432.3" r="0.7"/><circle cx="393.8" cy="459.0" r="0.7"/><circle cx="363.9" cy="441.9" r="0.7"/><circle cx="366.8" cy="501.6" r="0.7"/><circle cx="337.7" cy="430.9" r="0.7"/><circle cx="401.3" cy="501.7" r="0.7"/><circle cx="398.5" cy="454.0" r="0.7"/><circle cx="391.1" cy="505.3" r="0.7"/><circle cx="406.2" cy="488.6" r="0.7"/><circle cx="403.6" cy="477.8" r="0.7"/><circle cx="356.3" cy="433.3" r="0.7"/><circle cx="357.8" cy="434.9" r="0.7"/></g>
<g fill="#8dd3c7"><circle cx="407.0" cy="452.0" r="1.3"/><circle cx="406.0" cy="456.0" r="1.3"/><circle cx="405.0" cy="460.0" r="1.3"/><circle cx="404.0" cy="464.0" r="1.3"/><circle cx="403.5" cy="468.0" r="1.3"/><circle cx="403.0" cy="472.0" r="1.3"/><circle cx="402.0" cy="476.0" r="1.3"/><circle cx="408.0" cy="455.0" r="1.3"/><circle cx="402.0" cy="462.0" r="1.3"/><circle cx="406.0" cy="470.0" r="1.3"/></g>
<g fill="#ffffff"><circle cx="401.4" cy="444.3" r="0.9"/><circle cx="397.7" cy="418.6" r="0.9"/><circle cx="395.6" cy="439.5" r="0.9"/><circle cx="413.9" cy="446.4" r="0.9"/><circle cx="386.9" cy="436.6" r="0.9"/><circle cx="392.5" cy="445.9" r="0.9"/><circle cx="380.1" cy="419.4" r="0.9"/><circle cx="383.4" cy="414.3" r="0.9"/><circle cx="389.2" cy="427.4" r="0.9"/><circle cx="386.9" cy="412.4" r="0.9"/><circle cx="407.4" cy="456.2" r="0.9"/><circle cx="397.9" cy="420.0" r="0.9"/><circle cx="380.5" cy="419.8" r="0.9"/><circle cx="408.6" cy="441.2" r="0.9"/><circle cx="389.2" cy="442.6" r="0.9"/><circle cx="379.1" cy="422.9" r="0.9"/><circle cx="405.1" cy="440.5" r="0.9"/><circle cx="372.5" cy="414.8" r="0.9"/><circle cx="415.4" cy="428.1" r="0.9"/><circle cx="386.1" cy="422.6" r="0.9"/><circle cx="433.7" cy="422.9" r="0.9"/><circle cx="406.2" cy="425.3" r="0.9"/><circle cx="436.8" cy="425.6" r="0.9"/><circle cx="380.0" cy="445.3" r="0.9"/><circle cx="430.0" cy="428.9" r="0.9"/><circle cx="424.2" cy="427.9" r="0.9"/><circle cx="428.7" cy="430.9" r="0.9"/><circle cx="405.2" cy="440.6" r="0.9"/><circle cx="410.2" cy="426.0" r="0.9"/><circle cx="386.1" cy="434.1" r="0.9"/><circle cx="400.8" cy="449.5" r="0.9"/><circle cx="410.0" cy="450.5" r="0.9"/><circle cx="381.8" cy="427.8" r="0.9"/><circle cx="379.0" cy="417.8" r="0.9"/><circle cx="394.4" cy="434.0" r="0.9"/><circle cx="383.5" cy="445.1" r="0.9"/><circle cx="405.9" cy="446.9" r="0.9"/><circle cx="405.1" cy="439.9" r="0.9"/><circle cx="387.7" cy="428.7" r="0.9"/><circle cx="407.4" cy="429.0" r="0.9"/><circle cx="412.8" cy="430.1" r="0.9"/><circle cx="409.9" cy="432.4" r="0.9"/><circle cx="382.7" cy="447.2" r="0.9"/><circle cx="421.4" cy="430.7" r="0.9"/><circle cx="378.7" cy="431.6" r="0.9"/><circle cx="373.6" cy="412.9" r="0.9"/><circle cx="397.4" cy="433.5" r="0.9"/><circle cx="421.2" cy="433.6" r="0.9"/><circle cx="390.9" cy="446.8" r="0.9"/><circle cx="376.2" cy="433.1" r="0.9"/></g>
<g fill="#ffffff"><circle cx="384.7" cy="433.3" r="0.65"/><circle cx="378.9" cy="414.7" r="0.65"/><circle cx="403.7" cy="440.4" r="0.65"/><circle cx="405.4" cy="437.3" r="0.65"/><circle cx="394.0" cy="449.1" r="0.65"/><circle cx="407.0" cy="425.5" r="0.65"/><circle cx="420.3" cy="429.9" r="0.65"/><circle cx="378.5" cy="446.2" r="0.65"/><circle cx="384.0" cy="440.5" r="0.65"/><circle cx="413.1" cy="422.9" r="0.65"/><circle cx="376.6" cy="439.3" r="0.65"/><circle cx="396.7" cy="433.7" r="0.65"/><circle cx="382.1" cy="441.3" r="0.65"/><circle cx="391.4" cy="418.1" r="0.65"/><circle cx="407.4" cy="437.8" r="0.65"/><circle cx="380.5" cy="439.7" r="0.65"/><circle cx="376.6" cy="411.2" r="0.65"/><circle cx="411.3" cy="453.0" r="0.65"/><circle cx="421.5" cy="427.7" r="0.65"/><circle cx="384.8" cy="406.6" r="0.65"/><circle cx="411.8" cy="436.4" r="0.65"/><circle cx="390.9" cy="440.9" r="0.65"/><circle cx="403.7" cy="427.9" r="0.65"/><circle cx="382.9" cy="409.2" r="0.65"/><circle cx="376.1" cy="416.8" r="0.65"/><circle cx="409.2" cy="433.4" r="0.65"/><circle cx="411.6" cy="449.9" r="0.65"/><circle cx="378.4" cy="422.7" r="0.65"/><circle cx="387.3" cy="408.6" r="0.65"/><circle cx="399.0" cy="446.1" r="0.65"/><circle cx="398.1" cy="418.2" r="0.65"/><circle cx="373.5" cy="418.5" r="0.65"/><circle cx="419.2" cy="443.5" r="0.65"/><circle cx="384.9" cy="435.9" r="0.65"/><circle cx="397.0" cy="448.6" r="0.65"/><circle cx="403.2" cy="420.3" r="0.65"/><circle cx="367.1" cy="420.1" r="0.65"/><circle cx="382.8" cy="446.2" r="0.65"/><circle cx="389.3" cy="418.9" r="0.65"/><circle cx="415.2" cy="441.9" r="0.65"/><circle cx="465.2" cy="406.0" r="0.65"/><circle cx="465.8" cy="411.7" r="0.65"/><circle cx="438.3" cy="421.4" r="0.65"/><circle cx="464.6" cy="403.8" r="0.65"/><circle cx="466.3" cy="405.0" r="0.65"/><circle cx="438.1" cy="425.7" r="0.65"/><circle cx="440.0" cy="423.2" r="0.65"/><circle cx="459.2" cy="412.3" r="0.65"/><circle cx="461.0" cy="411.7" r="0.65"/><circle cx="439.8" cy="425.0" r="0.65"/><circle cx="443.3" cy="423.3" r="0.65"/><circle cx="467.3" cy="402.1" r="0.65"/><circle cx="452.2" cy="415.8" r="0.65"/><circle cx="461.7" cy="407.2" r="0.65"/><circle cx="462.8" cy="409.3" r="0.65"/><circle cx="466.3" cy="409.9" r="0.65"/><circle cx="443.7" cy="421.6" r="0.65"/><circle cx="439.7" cy="426.9" r="0.65"/><circle cx="464.4" cy="408.5" r="0.65"/><circle cx="451.3" cy="416.9" r="0.65"/><circle cx="457.0" cy="411.8" r="0.65"/><circle cx="446.3" cy="421.7" r="0.65"/><circle cx="463.2" cy="406.3" r="0.65"/><circle cx="466.8" cy="404.8" r="0.65"/><circle cx="452.5" cy="419.7" r="0.65"/><circle cx="455.7" cy="413.3" r="0.65"/></g>
<g fill="#ffffff"><circle cx="276.0" cy="457.5" r="1.1"/><circle cx="279.5" cy="458.2" r="1.1"/><circle cx="283.5" cy="457.0" r="1.1"/><circle cx="287.5" cy="458.3" r="1.1"/><circle cx="281.5" cy="459.6" r="1.1"/><circle cx="285.0" cy="456.0" r="1.1"/></g>
<g fill="#ffffff"><circle cx="316.0" cy="460.0" r="0.8"/><circle cx="319.0" cy="462.3" r="0.8"/><circle cx="322.0" cy="459.0" r="0.8"/><circle cx="325.0" cy="463.0" r="0.8"/><circle cx="327.5" cy="460.5" r="0.8"/><circle cx="313.0" cy="462.0" r="0.8"/></g>
<g fill="#80b1d3"><circle cx="306.0" cy="449.0" r="0.8"/><circle cx="310.0" cy="451.0" r="0.8"/><circle cx="314.0" cy="447.5" r="0.8"/><circle cx="318.0" cy="450.0" r="0.8"/><circle cx="323.0" cy="448.0" r="0.8"/><circle cx="327.0" cy="450.0" r="0.8"/><circle cx="330.0" cy="446.5" r="0.8"/><circle cx="302.0" cy="452.0" r="0.8"/><circle cx="321.0" cy="452.0" r="0.8"/><circle cx="312.0" cy="453.0" r="0.8"/><circle cx="334.0" cy="449.0" r="0.8"/></g>
</g></g><!--/umap-->
<g id="axes">
<g stroke="#2a2a2a" stroke-width="1.4" fill="none">
<line x1="114.6" y1="200.5" x2="114.6" y2="611.9"/>
<line x1="114" y1="611.3" x2="605.2" y2="611.3"/>
<line x1="110.4" y1="269.5" x2="114.6" y2="269.5"/>
<line x1="110.4" y1="386" x2="114.6" y2="386"/>
<line x1="110.4" y1="502.5" x2="114.6" y2="502.5"/>
<line x1="114.6" y1="611.3" x2="114.6" y2="615.3"/>
<line x1="205" y1="611.3" x2="205" y2="615.3"/>
<line x1="295.3" y1="611.3" x2="295.3" y2="615.3"/>
<line x1="385.6" y1="611.3" x2="385.6" y2="615.3"/>
<line x1="476" y1="611.3" x2="476" y2="615.3"/>
<line x1="566.4" y1="611.3" x2="566.4" y2="615.3"/>
</g>
<!--tk-->
<text class="tick" font-size="16.0" transform="translate(86.51,275.60) scale(1.05,1)">10</text>
<text class="tick" font-size="16.0" transform="translate(95.86,392.10) scale(1.05,1)">0</text>
<text class="tick" font-size="16.0" transform="translate(80.89,508.80) scale(1.05,1)">-10</text>
<text class="tick" font-size="16.0" transform="translate(102.65,631.1) scale(1.05,1)">-15</text>
<text class="tick" font-size="16.0" transform="translate(192.95,631.1) scale(1.05,1)">-10</text>
<text class="tick" font-size="16.0" transform="translate(287.92,631.1) scale(1.05,1)">-5</text>
<text class="tick" font-size="16.0" transform="translate(381.03,631.1) scale(1.05,1)">0</text>
<text class="tick" font-size="16.0" transform="translate(471.33,631.1) scale(1.05,1)">5</text>
<text class="tick" font-size="16.0" transform="translate(557.05,631.1) scale(1.05,1)">10</text>
<text class="axt" font-size="17.2" transform="translate(321.80,650.90) scale(1.0792,1)">UMAP_1</text>
<text class="axt" font-size="17.2" transform="translate(70.4,441.00) rotate(-90) scale(1.0094,1)">UMAP_2</text>
<!--/tk-->
</g>
<g id="labels">
<text class="lab" font-size="17.6" transform="translate(315.70,239.90) scale(1.0415,1)">Mast cells</text>
<text class="lab" font-size="17.6" transform="translate(131.00,341.50) scale(1.0380,1)">NK cells</text>
<text class="lab" font-size="17.6" transform="translate(209.20,366.50) scale(1.0234,1)">T lymphocytes</text>
<text class="lab" font-size="17.6" transform="translate(293.60,337.50) scale(1.0345,1)">B lymphocytes</text>
<text class="lab" font-size="17.6" transform="translate(462.60,370.10) scale(1.0521,1)">Myeloid cells</text>
<text class="lab" font-size="17.6" transform="translate(181.20,455.40) scale(1.0489,1)">Bronchial cells</text>
<text class="lab" font-size="17.6" transform="translate(329.30,468.90) scale(1.0424,1)">Alveolar cells</text>
<text class="lab" font-size="17.6" transform="translate(327.00,493.20) scale(1.0476,1)">Tumor cells</text>
<text class="lab" font-size="17.6" transform="translate(191.30,535.90) scale(1.0337,1)">Fibroblasts</text>
<text class="lab" font-size="17.6" transform="translate(301.00,581.50) scale(1.0472,1)">Endothelial cells</text>
</g>
<g id="legend">
<circle cx="635.6" cy="322.0" r="5.5" fill="#8dd3c7"/><text class="leg" font-size="15.4" transform="translate(650.60,326.80) scale(1.0335,1)">Myeloid cells</text>
<circle cx="635.6" cy="341.7" r="5.5" fill="#ffffb3"/><text class="leg" font-size="15.4" transform="translate(650.60,346.64) scale(1.0304,1)">Tumor cells</text>
<circle cx="635.6" cy="361.3" r="5.5" fill="#bebada"/><text class="leg" font-size="15.4" transform="translate(650.60,366.48) scale(1.0283,1)">T lymphocytes</text>
<circle cx="635.6" cy="381.0" r="5.5" fill="#fb8072"/><text class="leg" font-size="15.4" transform="translate(650.60,386.32) scale(1.0265,1)">NK cells</text>
<circle cx="635.6" cy="400.7" r="5.5" fill="#80b1d3"/><text class="leg" font-size="15.4" transform="translate(650.60,406.16) scale(1.0312,1)">Bronchial cells</text>
<circle cx="635.6" cy="420.4" r="5.5" fill="#fdb462"/><text class="leg" font-size="15.4" transform="translate(650.60,426.00) scale(1.0386,1)">Endothelial cells</text>
<circle cx="635.6" cy="440.0" r="5.5" fill="#b3de69"/><text class="leg" font-size="15.4" transform="translate(650.60,445.84) scale(1.0425,1)">Fibroblasts</text>
<circle cx="635.6" cy="459.7" r="5.5" fill="#fccde5"/><text class="leg" font-size="15.4" transform="translate(650.60,465.68) scale(1.0353,1)">Alveolar cells</text>
<circle cx="635.6" cy="479.4" r="5.5" fill="#d9d9d9"/>
<text class="leg" font-size="15.4" transform="translate(650.60,485.52) scale(1.0323,1)" xml:space="preserve">Mast  cells</text>
<circle cx="635.6" cy="499.0" r="5.5" fill="#bc80bd"/><text class="leg" font-size="15.4" transform="translate(650.60,505.36) scale(1.0235,1)">B lymphocytes</text>
</g>
</svg>
</body>
</html>
